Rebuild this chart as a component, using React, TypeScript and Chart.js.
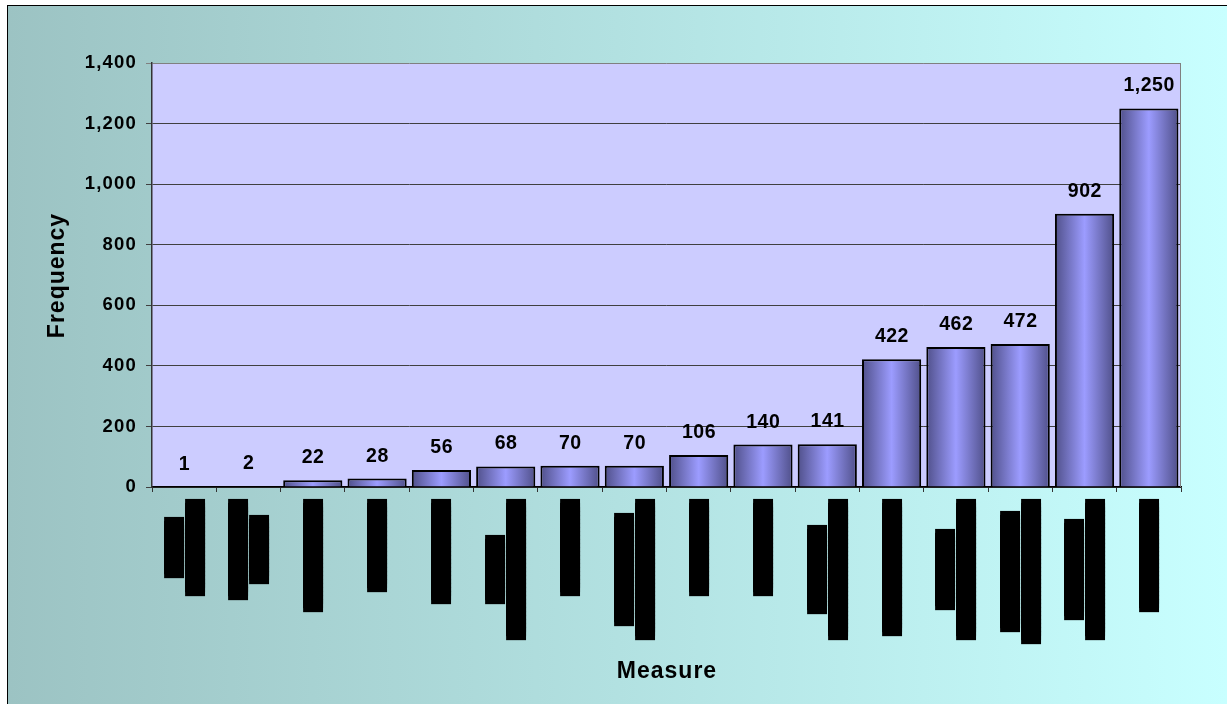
import { useEffect, useRef } from "react";
import { Chart, registerables } from "chart.js";

Chart.register(...registerables);

// Category labels (rendered as solid glyph runs, one string per line)
const measureLabels: string[][] = [
  ["█████" + "█████" + "███", "█████" + "█████" + "█████" + "█████" + "██"],
  ["█████" + "█████" + "█████" + "█████" + "███", "█████" + "█████" + "█████"],
  ["█████" + "█████" + "█████" + "█████" + "█████" + "█"],
  ["█████" + "█████" + "█████" + "█████" + "█"],
  ["█████" + "█████" + "█████" + "█████" + "████"],
  ["█████" + "█████" + "█████", "█████" + "█████" + "█████" + "█████" + "█████" + "█████" + "███"],
  ["█████" + "█████" + "█████" + "█████" + "██"],
  ["█████" + "█████" + "█████" + "█████" + "█████" + "█", "█████" + "█████" + "█████" + "█████" + "█████" + "█████" + "███"],
  ["█████" + "█████" + "█████" + "█████" + "██"],
  ["█████" + "█████" + "█████" + "█████" + "██"],
  ["█████" + "█████" + "█████" + "█████", "█████" + "█████" + "█████" + "█████" + "█████" + "█████" + "███"],
  ["█████" + "█████" + "█████" + "█████" + "█████" + "█████" + "██"],
  ["█████" + "█████" + "█████" + "███", "█████" + "█████" + "█████" + "█████" + "█████" + "█████" + "███"],
  ["█████" + "█████" + "█████" + "█████" + "█████" + "███", "█████" + "█████" + "█████" + "█████" + "█████" + "█████" + "████"],
  ["█████" + "█████" + "█████" + "█████" + "███", "█████" + "█████" + "█████" + "█████" + "█████" + "█████" + "███"],
  ["█████" + "█████" + "█████" + "█████" + "█████" + "█"],
];

const frequency: number[] = [1, 2, 22, 28, 56, 68, 70, 70, 106, 140, 141, 422, 462, 472, 902, 1250];

const yMin = 0;
const yMax = 1400;
const yStep = 200;

const xTitle = "Measure";
const yTitle = "Frequency";

const FONT = "'Liberation Sans', Arial, sans-serif";
const BAR_PCT = 0.92;

const fmt = (v: number) => Number(v).toLocaleString("en-US");

const barFill = (c: any) => {
  const ch = c.chart;
  const xs = ch.scales && ch.scales.x;
  if (!xs || c.type !== "data" || !ch.chartArea) return "#9999ff";
  const cx = xs.getPixelForValue(c.dataIndex);
  const half = ((xs.width / frequency.length) * BAR_PCT) / 2;
  const g = ch.ctx.createLinearGradient(cx - half, 0, cx + half, 0);
  g.addColorStop(0, "#50508a");
  g.addColorStop(0.5, "#9c9cff");
  g.addColorStop(1, "#50508a");
  return g;
};

const bgPlugin = {
  id: "bg",
  beforeDraw(chart: any) {
    const { ctx, width, height, chartArea } = chart;
    ctx.save();
    const g = ctx.createLinearGradient(0, 0, width, 0);
    g.addColorStop(0, "#9cc3c3");
    g.addColorStop(1, "#c8ffff");
    ctx.fillStyle = g;
    ctx.fillRect(0, 0, width, height);
    ctx.fillStyle = "#ccccff";
    ctx.fillRect(chartArea.left, chartArea.top, chartArea.right - chartArea.left, chartArea.bottom - chartArea.top);
    ctx.restore();
    ctx.letterSpacing = "1.2px";
  },
  afterDatasetsDraw(chart: any) {
    const { ctx, chartArea } = chart;
    ctx.save();
    ctx.strokeStyle = "#808080";
    ctx.lineWidth = 1;
    ctx.beginPath();
    ctx.moveTo(chartArea.right - 0.5, chartArea.top);
    ctx.lineTo(chartArea.right - 0.5, chartArea.bottom);
    ctx.stroke();
    ctx.restore();
  },
};

const valuePlugin = {
  id: "values",
  afterDatasetsDraw(chart: any) {
    const { ctx } = chart;
    const meta = chart.getDatasetMeta(0);
    ctx.save();
    ctx.letterSpacing = "0.5px";
    ctx.font = `bold 19.5px ${FONT}`;
    ctx.fillStyle = "#000";
    ctx.textAlign = "center";
    ctx.textBaseline = "alphabetic";
    meta.data.forEach((el: any, i: number) => {
      ctx.fillText(fmt(frequency[i]), el.x + 0.3, el.y - 17);
    });
    ctx.restore();
  },
};

const titlePlugin = {
  id: "titles",
  afterDraw(chart: any) {
    const { ctx, chartArea } = chart;
    ctx.save();
    ctx.letterSpacing = "1px";
    ctx.font = `bold 23px ${FONT}`;
    ctx.fillStyle = "#000";
    ctx.textAlign = "center";
    ctx.textBaseline = "alphabetic";
    ctx.fillText(xTitle, (chartArea.left + chartArea.right) / 2 + 0.5, chartArea.bottom + 190.5);
    ctx.translate(55.5, (chartArea.top + chartArea.bottom) / 2 + 1);
    ctx.rotate(-Math.PI / 2);
    ctx.fillText(yTitle, 0.5, 0);
    ctx.restore();
  },
};

const blockPlugin = {
  id: "blockLabels",
  afterDraw(chart: any) {
    const { ctx, chartArea } = chart;
    const xs = chart.scales.x;
    ctx.save();
    ctx.letterSpacing = "0px";
    ctx.font = "100px 'DejaVu Sans'";
    const m = ctx.measureText("█");
    let thick = m.actualBoundingBoxAscent + m.actualBoundingBoxDescent;
    if (!thick || !isFinite(thick)) thick = 100;
    const size = (100 * 20) / thick;
    ctx.font = `${size}px 'DejaVu Sans'`;
    const m2 = ctx.measureText("█");
    const adv = m2.width;
    const asc = m2.actualBoundingBoxAscent;
    const desc = m2.actualBoundingBoxDescent;
    const pitch = 4;
    ctx.letterSpacing = `${pitch - adv}px`;
    ctx.fillStyle = "#000";
    ctx.textAlign = "left";
    ctx.textBaseline = "alphabetic";
    const top = chartArea.bottom + 12;
    measureLabels.forEach((lines, i) => {
      const cx = xs.getPixelForValue(i) + 0.5;
      const inks = lines.map((l) => ([...l].length - 1) * pitch + adv);
      const maxInk = Math.max(...inks);
      const cy = top + maxInk / 2;
      lines.forEach((l, j) => {
        const colX = cx + (j - (lines.length - 1) / 2) * 21;
        ctx.save();
        ctx.translate(colX, cy);
        ctx.rotate(-Math.PI / 2);
        ctx.fillText(l, -inks[j] / 2, (asc - desc) / 2);
        ctx.restore();
      });
    });
    ctx.restore();
  },
};

export default function App() {
  const ref = useRef<HTMLCanvasElement>(null);
  useEffect(() => {
    const chart = new Chart(ref.current as HTMLCanvasElement, {
      type: "bar",
      data: {
        labels: measureLabels as any,
        datasets: [
          {
            data: frequency,
            backgroundColor: barFill as any,
            borderColor: "#000",
            borderWidth: 2,
            barPercentage: BAR_PCT,
            categoryPercentage: 1,
          },
        ],
      },
      options: {
        responsive: false,
        animation: false,
        layout: { padding: { top: 57, right: 46, left: 0, bottom: 0 } },
        plugins: { legend: { display: false }, tooltip: { enabled: false } },
        scales: {
          x: {
            ticks: { display: false },
            grid: { display: true, drawOnChartArea: false, drawTicks: true, tickLength: 5, color: "#333", offset: true },
            border: { display: true, color: "#000", width: 1.5 },
            afterFit: (s: any) => {
              s.height = 217;
            },
          },
          y: {
            min: yMin,
            max: yMax,
            ticks: {
              stepSize: yStep,
              color: "#000",
              padding: 9,
              font: { family: FONT, size: 18.5, weight: "bold" },
              callback: (v: any) => fmt(v),
            },
            grid: {
              color: (c: any) => (c.tick && c.tick.value === yMax ? "#808080" : "#404040"),
              tickLength: 6,
              lineWidth: 1,
            },
            border: { color: "#333", width: 1.5 },
            afterFit: (s: any) => {
              s.width = 144;
            },
          },
        },
      },
      plugins: [bgPlugin, valuePlugin, titlePlugin, blockPlugin],
    });
    return () => chart.destroy();
  }, []);
  return (
    <div
      style={{
        position: "fixed",
        left: 7,
        top: 5,
        borderLeft: "1px solid #000",
        borderTop: "1px solid #000",
      }}
    >
      <canvas ref={ref} width={1219} height={698} style={{ display: "block" }} />
    </div>
  );
}
